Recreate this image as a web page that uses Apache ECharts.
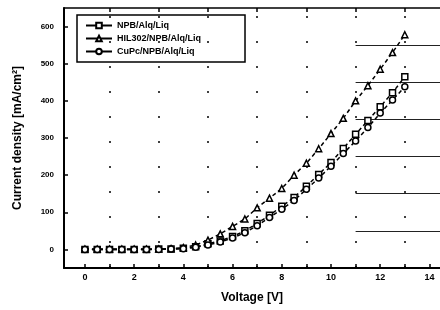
<!DOCTYPE html>
<html>
<head>
<meta charset="utf-8">
<script src="https://cdn.jsdelivr.net/npm/echarts@6/dist/echarts.min.js"></script>
<style>
html, body { margin: 0; padding: 0; background: #fff; }
#chart { width: 440px; height: 310px; }
</style>
</head>
<body>
<div id="chart"></div>
<script>
// J-V curves of three device stacks
var voltage = [0, 0.5, 1, 1.5, 2, 2.5, 3, 3.5, 4, 4.5, 5, 5.5, 6, 6.5, 7, 7.5, 8, 8.5, 9, 9.5, 10, 10.5, 11, 11.5, 12, 12.5, 13];
var npb  = [0, 0, 0, 0, 0, 0, 1, 1, 3, 7, 15, 23, 35, 50, 70, 92, 116, 140, 170, 202, 234, 272, 310, 347, 384, 422, 465];
var hil  = [1, 1, 1, 1, 1, 1, 1, 2, 5, 12, 25, 42, 62, 82, 112, 138, 164, 200, 232, 271, 312, 353, 400, 441, 485, 530, 578];
var cupc = [0, 0, 0, 0, 0, 0, 0, 1, 2, 6, 12, 20, 31, 45, 64, 86, 108, 132, 162, 192, 224, 258, 292, 328, 367, 402, 438];

var seriesNames = ['NPB/Alq/Liq', 'HIL302/NPB/Alq/Liq', 'CuPc/NPB/Alq/Liq'];
var xTicks = [0, 1, 2, 3, 4, 5, 6, 7, 8, 9, 10, 11, 12, 13, 14];
var xLabels = [0, 2, 4, 6, 8, 10, 12, 14];
var topTicks = [1, 3, 5, 7, 9, 11, 13];
var yTicks = [0, 100, 200, 300, 400, 500, 600];
// stray scan lines on the right side of the figure
var strayLevels = [50, 150, 250, 350, 450, 550];
var strayFrom = 11;

var xMin = -0.85, xMax = 14.43;
var font = 'Liberation Sans';

function pairs(ys) {
	return voltage.map(function (v, i) { return [v, ys[i]]; });
}

function curve(name, values, symbol) {
	return {
		name: name,
		type: 'line',
		data: pairs(values),
		symbol: symbol,
		symbolSize: 6,
		showSymbol: true,
		itemStyle: { color: '#fff', borderColor: '#000', borderWidth: 1.5 },
		lineStyle: { color: '#000', width: 1.5, type: [4, 3] },
		z: 5
	};
}

var myChart = echarts.init(document.getElementById('chart'));

var series = [
	curve(seriesNames[0], npb, 'rect'),
	curve(seriesNames[1], hil, 'triangle'),
	curve(seriesNames[2], cupc, 'circle')
];

series[0].markLine = {
	silent: true,
	symbol: 'none',
	label: { show: false },
	animation: false,
	data: topTicks.map(function (v) {
		return { xAxis: v, lineStyle: { color: '#000', width: 1.5, type: [2, 23] } };
	}).concat(strayLevels.map(function (y) {
		return [
			{ coord: [strayFrom, y], lineStyle: { color: '#222', width: 1, type: 'solid' } },
			{ coord: [xMax, y] }
		];
	}))
};

var option = {
	animation: false,
	backgroundColor: '#fff',
	textStyle: { fontFamily: font },
	legend: {
		data: seriesNames,
		orient: 'vertical',
		left: 77,
		top: 15,
		itemGap: 4,
		itemWidth: 26,
		itemHeight: 7,
		padding: [6, 44, 6, 8],
		borderColor: '#000',
		borderWidth: 1.5,
		backgroundColor: '#fff',
		lineStyle: { type: 'solid' },
		textStyle: { fontFamily: font, fontWeight: 'bold', fontSize: 9, color: '#000' }
	},
	grid: {
		left: 64,
		right: 0,
		top: 8,
		bottom: 42
	},
	xAxis: [
		{
			type: 'value',
			min: xMin,
			max: xMax,
			name: 'Voltage [V]',
			nameLocation: 'middle',
			nameGap: 24,
			nameTextStyle: { fontFamily: font, fontWeight: 'bold', fontSize: 12, color: '#000' },
			axisLine: { show: true, onZero: false, lineStyle: { color: '#000', width: 2 } },
			axisTick: { show: true, inside: true, length: 4, customValues: xTicks, lineStyle: { color: '#000', width: 1.5 } },
			axisLabel: { customValues: xLabels, fontFamily: font, fontWeight: 'bold', fontSize: 9, color: '#000', margin: 5 },
			splitLine: { show: false }
		},
		{
			type: 'value',
			position: 'top',
			min: xMin,
			max: xMax,
			axisLine: { show: true, onZero: false, lineStyle: { color: '#000', width: 1.5 } },
			axisTick: { show: true, inside: true, length: 4, customValues: topTicks, lineStyle: { color: '#000', width: 1.5 } },
			axisLabel: { show: false },
			splitLine: { show: false }
		}
	],
	yAxis: {
		type: 'value',
		min: -50,
		max: 650,
		name: 'Current density [mA/cm\u00B2]',
		nameLocation: 'middle',
		nameGap: 40,
		nameTextStyle: { fontFamily: font, fontWeight: 'bold', fontSize: 12, color: '#000' },
		axisLine: { show: true, onZero: false, lineStyle: { color: '#000', width: 2 } },
		axisTick: { show: true, inside: true, length: 4, customValues: yTicks, lineStyle: { color: '#000', width: 1.5 } },
		axisLabel: { customValues: yTicks, fontFamily: font, fontWeight: 'bold', fontSize: 8, color: '#000', margin: 10 },
		splitLine: { show: false }
	},
	series: series
};
myChart.setOption(option, true);
</script>
</body>
</html>
